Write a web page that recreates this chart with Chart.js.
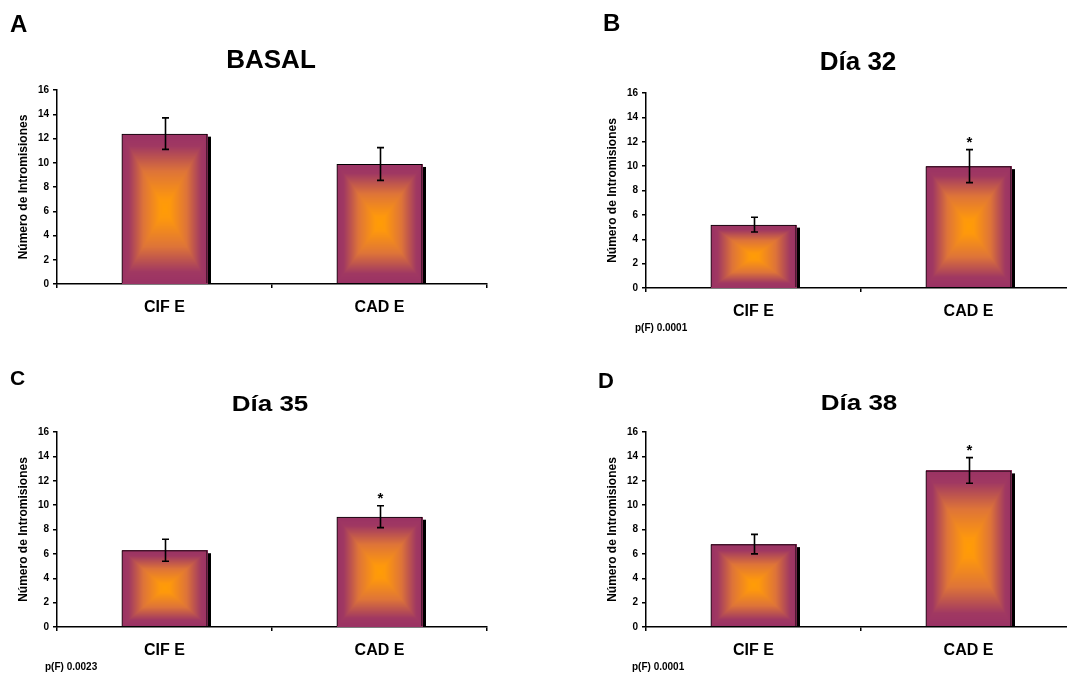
<!DOCTYPE html>
<html>
<head>
<meta charset="utf-8">
<script src="https://cdn.jsdelivr.net/npm/chart.js@4.4.0/dist/chart.umd.min.js"></script>
<style>
    html, body { margin: 0; padding: 0; background: #fff; overflow: hidden; width: 1067px; height: 675px; }
    canvas { position: absolute; }
</style>
</head>
<body>
<canvas id="panelA" width="533" height="337" style="left:0px;top:0px"></canvas>
<canvas id="panelB" width="560" height="337" style="left:533px;top:0px"></canvas>
<canvas id="panelC" width="533" height="338" style="left:0px;top:337px"></canvas>
<canvas id="panelD" width="560" height="338" style="left:533px;top:337px"></canvas>
<script>
// Data
var categories = ['CIF E', 'CAD E'];

var basalMeans = [12.4, 9.9];
var basalErrors = [1.3, 1.35];

var dia32Means = [5.2, 10.0];
var dia32Errors = [0.6, 1.35];

var dia35Means = [6.3, 9.05];
var dia35Errors = [0.9, 0.9];

var dia38Means = [6.8, 12.85];
var dia38Errors = [0.8, 1.05];

var panelLetters = ['A', 'B', 'C', 'D'];
var panelTitles = ['BASAL', 'Día 32', 'Día 35', 'Día 38'];
var pValueLabels = ['', 'p(F) 0.0001', 'p(F) 0.0023', 'p(F) 0.0001'];
var starredBars = [[false, false], [false, true], [false, true], [false, true]];

var yTicksMax = 16;
var yTicksStep = 2;

var FONT = "'Liberation Sans', Arial, Helvetica, sans-serif";

// Where each panel sits inside its canvas  (letter: x, y, font size; title: x, y, y-squash)
var panels = [
    { id: 'panelA', means: basalMeans, errors: basalErrors,
      pad: { left: 0, top: 90, right: 46, bottom: 0 }, xHeight: 53,
      letter: [10, 32, 24], title: [271, 68, 1], pText: [0, 0] },
    { id: 'panelB', means: dia32Means, errors: dia32Errors,
      pad: { left: 56, top: 93, right: 17, bottom: 0 }, xHeight: 49,
      letter: [70, 31, 24], title: [325, 70, 1], pText: [102, 331] },
    { id: 'panelC', means: dia35Means, errors: dia35Errors,
      pad: { left: 0, top: 95, right: 46, bottom: 0 }, xHeight: 48,
      letter: [10, 48, 21], title: [270, 74, 0.88], pText: [45, 333] },
    { id: 'panelD', means: dia38Means, errors: dia38Errors,
      pad: { left: 56, top: 95, right: 17, bottom: 0 }, xHeight: 48,
      letter: [65, 51, 22], title: [326, 73, 0.88], pText: [99, 333] }
];

// Excel style "from centre" rectangular gradient: orange middle, purple edges
var rampStops = [
    [0, [255, 156, 5]],
    [0.12, [254, 152, 12]],
    [0.5, [222, 116, 56]],
    [0.84, [160, 56, 98]],
    [1, [154, 50, 100]]
];

function rampColour(t) {
    for (var i = 1; i < rampStops.length; i++) {
        if (t <= rampStops[i][0]) {
            var a = rampStops[i - 1], b = rampStops[i];
            var f = (t - a[0]) / (b[0] - a[0]);
            return [0, 1, 2].map(k => Math.round(a[1][k] + (b[1][k] - a[1][k]) * f));
        }
    }
    return rampStops[rampStops.length - 1][1];
}

function paintGradient(ctx, left, top, w, h) {
    w = Math.max(1, Math.round(w));
    h = Math.max(1, Math.round(h));
    var off = document.createElement('canvas');
    off.width = w;
    off.height = h;
    var octx = off.getContext('2d');
    var img = octx.createImageData(w, h);
    var hw = w / 2, hh = h / 2;
    for (var y = 0; y < h; y++) {
        for (var x = 0; x < w; x++) {
            var t = Math.max(Math.abs(x + 0.5 - hw) / hw, Math.abs(y + 0.5 - hh) / hh);
            var c = rampColour(Math.min(1, t));
            var i = (y * w + x) * 4;
            img.data[i] = c[0];
            img.data[i + 1] = c[1];
            img.data[i + 2] = c[2];
            img.data[i + 3] = 255;
        }
    }
    octx.putImageData(img, 0, 0);
    ctx.drawImage(off, Math.round(left), Math.round(top));
}

// Draws shadow + gradient under the bars, then error bars, stars and labels
var decorPlugin = {
    id: 'decor',
    beforeDatasetsDraw(chart) {
        var ctx = chart.ctx;
        var meta = chart.getDatasetMeta(0);
        ctx.save();
        meta.data.forEach(bar => {
            var p = bar.getProps(['x', 'y', 'base', 'width'], true);
            var left = p.x - p.width / 2;
            var right = p.x + p.width / 2;
            ctx.fillStyle = '#000';
            ctx.fillRect(Math.round(right), p.y + 3, 3, p.base - p.y - 3);
            paintGradient(ctx, left, p.y, p.width, p.base - p.y);
        });
        ctx.restore();
    },
    afterDatasetsDraw(chart, args, opts) {
        var ctx = chart.ctx;
        var yScale = chart.scales.y;
        var meta = chart.getDatasetMeta(0);
        var ds = chart.data.datasets[0];
        ctx.save();
        ctx.strokeStyle = '#000';
        ctx.lineWidth = 1.6;
        meta.data.forEach((bar, i) => {
            var p = bar.getProps(['x'], true);
            var v = ds.data[i], e = opts.errors[i];
            var yTop = yScale.getPixelForValue(v + e);
            var yBot = yScale.getPixelForValue(v - e);
            var x = Math.round(p.x) + 0.5;
            ctx.beginPath();
            ctx.moveTo(x, yTop);
            ctx.lineTo(x, yBot);
            ctx.moveTo(x - 3.5, yTop);
            ctx.lineTo(x + 3.5, yTop);
            ctx.moveTo(x - 3.5, yBot);
            ctx.lineTo(x + 3.5, yBot);
            ctx.stroke();
            if (opts.stars[i]) {
                ctx.fillStyle = '#000';
                ctx.font = 'bold 15px ' + FONT;
                ctx.textAlign = 'center';
                ctx.textBaseline = 'alphabetic';
                ctx.fillText('*', x, yTop - 3);
            }
        });
        ctx.restore();
    },
    afterDraw(chart, args, opts) {
        var ctx = chart.ctx;
        ctx.save();
        ctx.fillStyle = '#000';
        ctx.textBaseline = 'alphabetic';

        ctx.font = 'bold ' + opts.letter[2] + 'px ' + FONT;
        ctx.textAlign = 'left';
        ctx.fillText(opts.letterText, opts.letter[0], opts.letter[1]);

        ctx.save();
        ctx.translate(opts.title[0], opts.title[1]);
        ctx.scale(1, opts.title[2]);
        ctx.font = 'bold 26px ' + FONT;
        ctx.textAlign = 'center';
        ctx.fillText(opts.titleText, 0, 0);
        ctx.restore();

        if (opts.pValue) {
            ctx.font = 'bold 10px ' + FONT;
            ctx.textAlign = 'left';
            ctx.fillText(opts.pValue, opts.pText[0], opts.pText[1]);
        }
        ctx.restore();
    }
};

panels.forEach((panel, idx) => {
    var ctx = document.getElementById(panel.id).getContext('2d');
    new Chart(ctx, {
        type: 'bar',
        data: {
            labels: categories,
            datasets: [{
                data: panel.means,
                backgroundColor: 'rgba(0,0,0,0)',
                borderColor: '#000',
                borderWidth: 1,
                categoryPercentage: 1,
                barPercentage: 0.4
            }]
        },
        plugins: [decorPlugin],
        options: {
            responsive: false,
            animation: false,
            events: [],
            layout: { padding: panel.pad },
            plugins: {
                legend: { display: false },
                tooltip: { enabled: false },
                title: { display: false },
                decor: {
                    errors: panel.errors,
                    stars: starredBars[idx],
                    letterText: panelLetters[idx],
                    titleText: panelTitles[idx],
                    pValue: pValueLabels[idx],
                    letter: panel.letter,
                    title: panel.title,
                    pText: panel.pText
                }
            },
            scales: {
                x: {
                    offset: true,
                    afterFit: scale => { scale.height = panel.xHeight; },
                    grid: {
                        offset: true,
                        drawOnChartArea: false,
                        drawTicks: true,
                        tickLength: 4,
                        color: '#000',
                        lineWidth: 1.5
                    },
                    border: { color: '#000', width: 1.5 },
                    ticks: {
                        color: '#000',
                        padding: 10,
                        font: { family: FONT, size: 16, weight: 'bold' }
                    }
                },
                y: {
                    min: 0,
                    max: yTicksMax,
                    afterFit: scale => { scale.width = 57; },
                    grid: {
                        drawOnChartArea: false,
                        drawTicks: true,
                        tickLength: 4,
                        color: '#000',
                        lineWidth: 1.5
                    },
                    border: { color: '#000', width: 1.5 },
                    ticks: {
                        stepSize: yTicksStep,
                        color: '#000',
                        padding: 4,
                        font: { family: FONT, size: 10, weight: 'bold' }
                    },
                    title: {
                        display: true,
                        text: 'Número de Intromisiones',
                        color: '#000',
                        padding: { top: 16, bottom: 0 },
                        font: { family: FONT, size: 12, weight: 'bold' }
                    }
                }
            }
        }
    });
});
</script>
</body>
</html>
